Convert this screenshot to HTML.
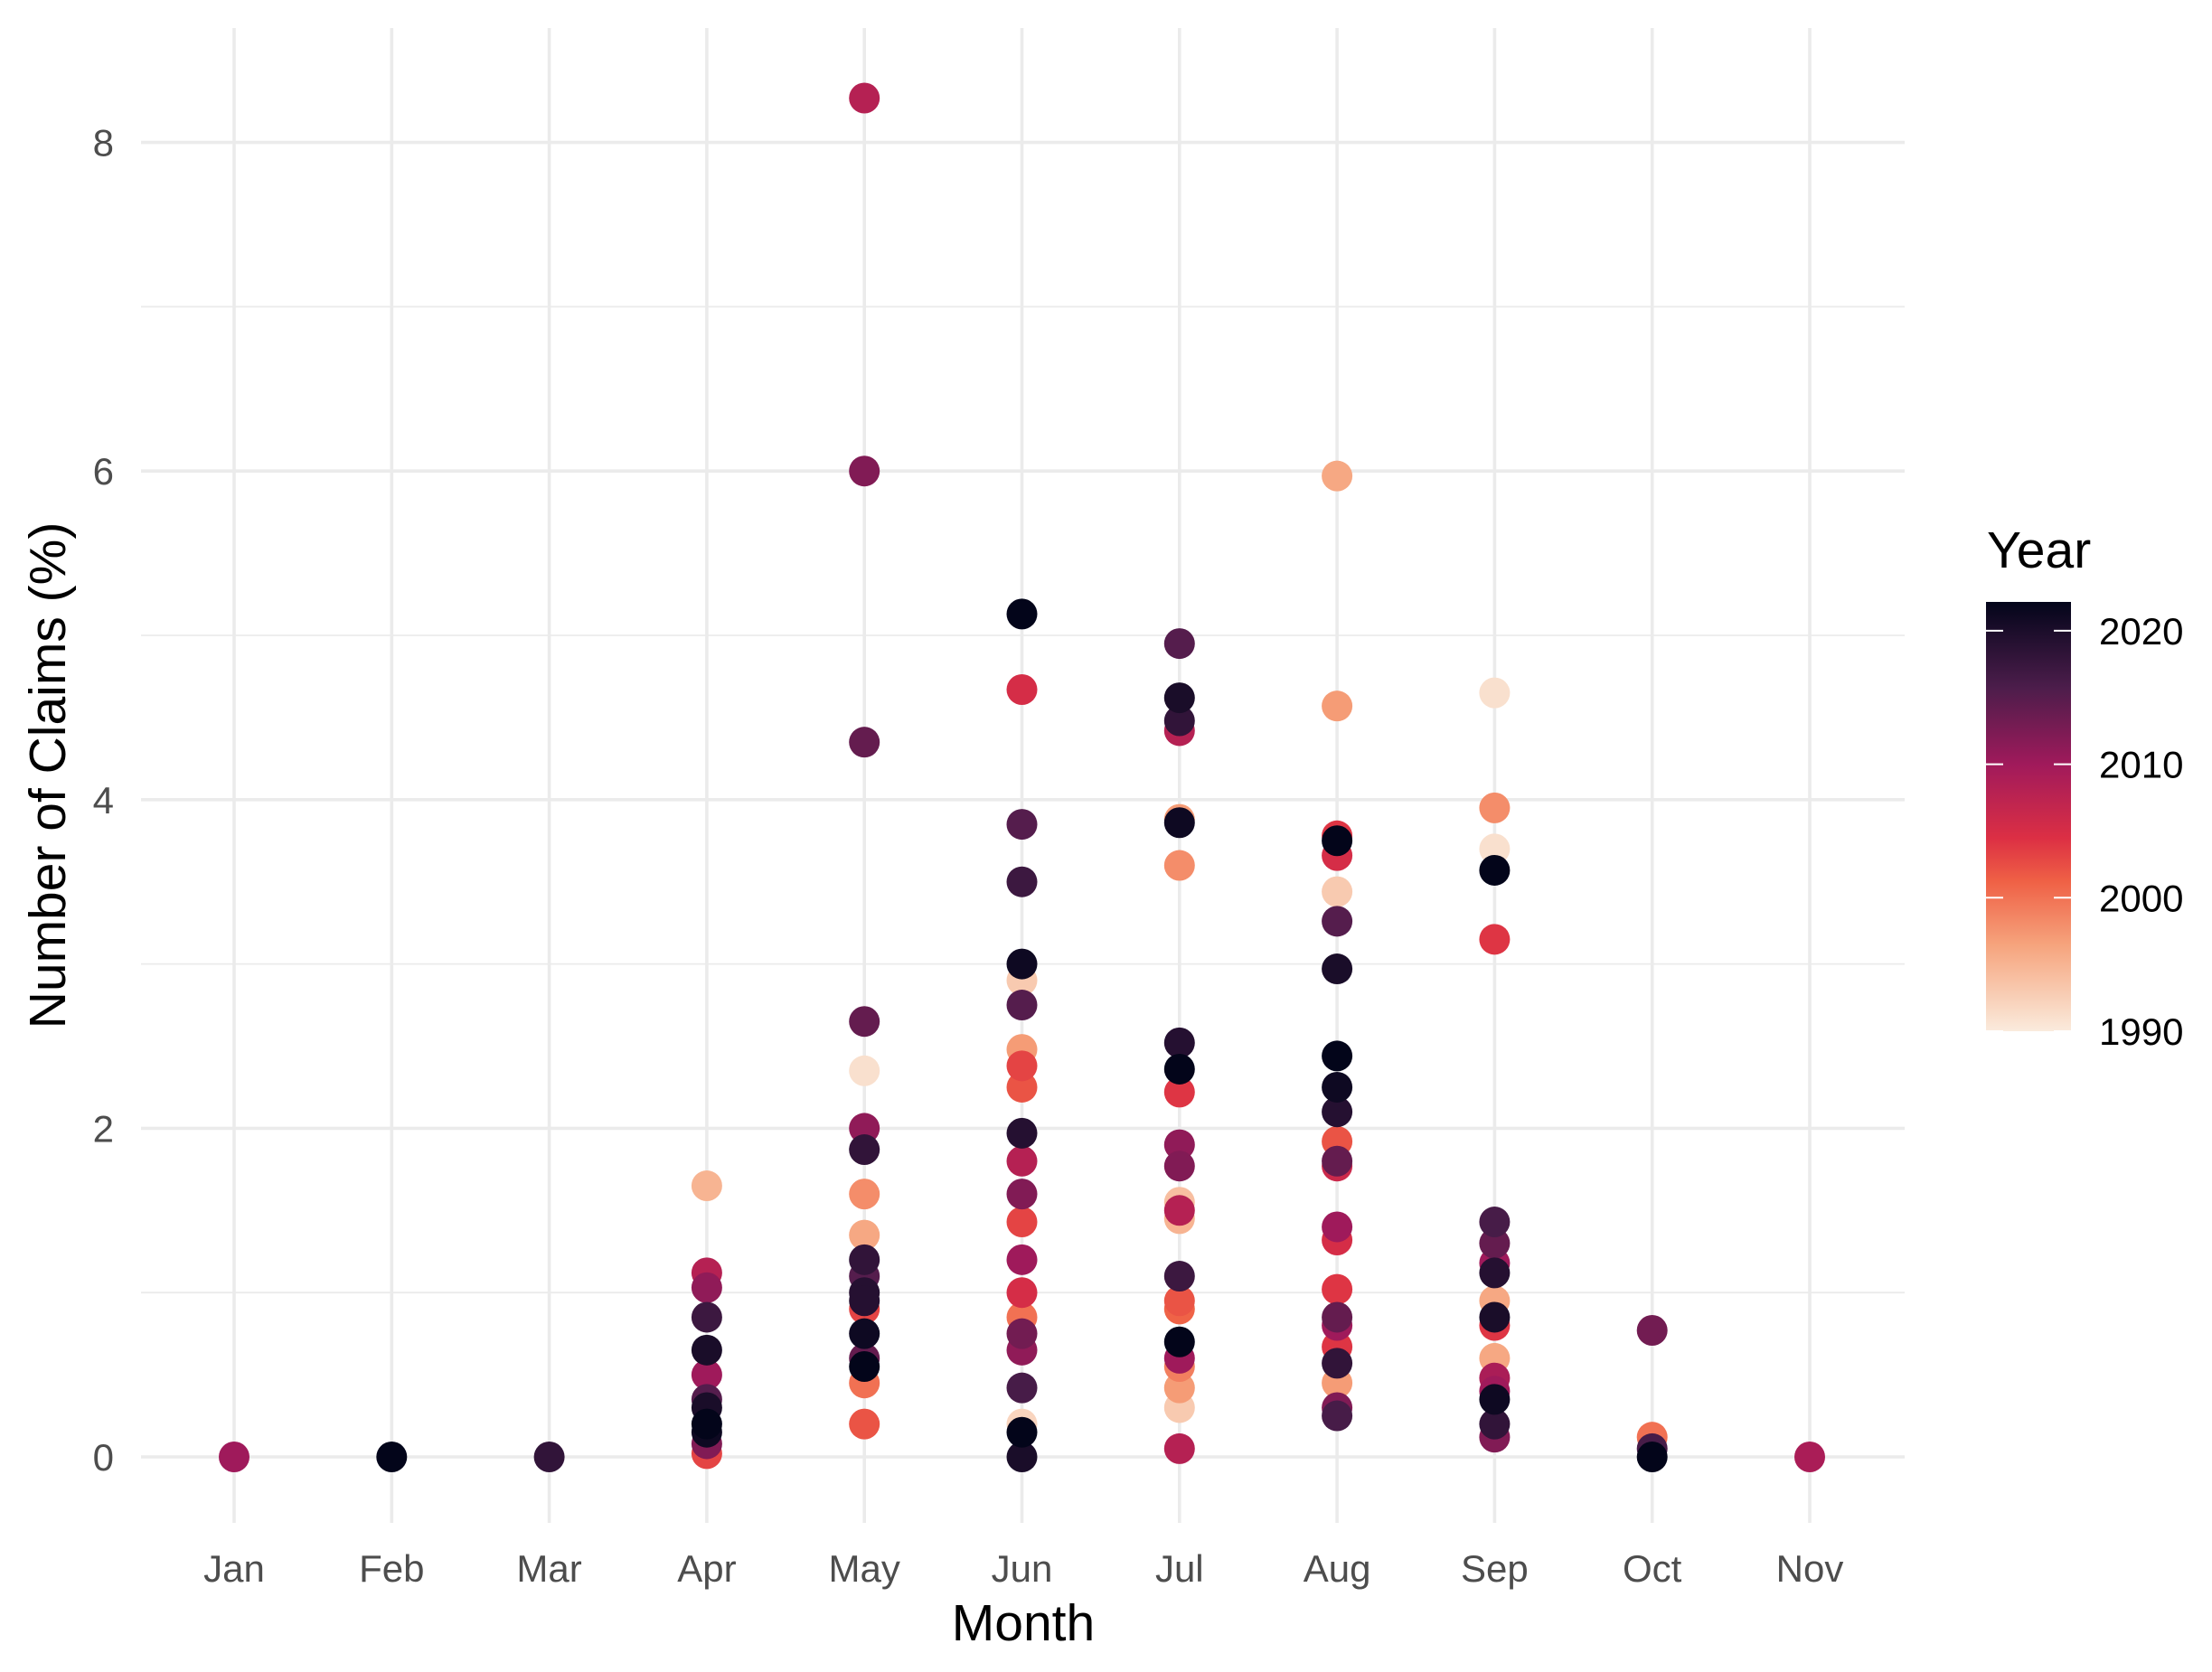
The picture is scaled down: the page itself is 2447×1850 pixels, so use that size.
<!DOCTYPE html>
<html><head><meta charset="utf-8"><style>
html,body{margin:0;padding:0;background:#fff;}
svg{display:block;font-family:"Liberation Sans",sans-serif;}
</style></head><body>
<svg id="chart" width="2447" height="1850" viewBox="0 0 2447 1850">
<defs>
<linearGradient id="rocket" x1="0" y1="1" x2="0" y2="0">
<stop offset="0" stop-color="#FAEBDD"/><stop offset="0.2" stop-color="#F6A47D"/><stop offset="0.35" stop-color="#EF6045"/>
<stop offset="0.45" stop-color="#DC2F44"/><stop offset="0.62" stop-color="#A11A5B"/><stop offset="0.8" stop-color="#4C1D4B"/><stop offset="1" stop-color="#03051A"/>
</linearGradient>
</defs>
<g id="grid"></g>
<g id="points"></g>
<g id="axes"></g>
<text x="1132" y="1815" font-size="57" text-anchor="middle" fill="#000">Month</text>
<text transform="translate(72,858) rotate(-90)" font-size="57" text-anchor="middle" fill="#000">Number of Claims (%)</text>
<g>
<text x="2198" y="628" font-size="57" fill="#000">Year</text>
<rect x="2197" y="666" width="94" height="475" fill="url(#rocket)"/>
<g id="legendticks"></g>
</g>
</svg>
<script>
const months = ["Jan","Feb","Mar","Apr","May","Jun","Jul","Aug","Sep","Oct","Nov"];
const yTicks = [0,2,4,6,8];
const legendYears = [1990,2000,2010,2020];
const ptMonth = [0,1,2,
3,3,3,3,3,3,3,3,3,3,3,3,
4,4,4,4,4,4,4,4,4,4,4,4,4,4,4,4,4,4,4,
5,5,5,5,5,5,5,5,5,5,5,5,5,5,5,5,5,5,5,5,5,5,5,
6,6,6,6,6,6,6,6,6,6,6,6,6,6,6,6,6,6,6,6,6,6,6,6,
7,7,7,7,7,7,7,7,7,7,7,7,7,7,7,7,7,7,7,7,7,7,7,7,
8,8,8,8,8,8,8,8,8,8,8,8,8,8,8,8,8,8,
9,9,9,9,10];
const ptValue = [0,0,0,
1.65,1.12,1.03,0.85,0.65,0.5,0.35,0.3,0.2,0.15,0.08,0.02,
8.27,6.0,4.35,2.65,2.35,2.0,1.87,1.6,1.35,1.2,1.0,0.9,0.75,0.55,0.6,0.45,0.2,1.1,0.95,
5.13,4.67,3.85,3.5,3.0,2.75,2.9,2.48,2.38,2.25,1.97,1.8,1.6,1.43,1.2,1.0,0.85,0.75,0.65,0.42,0.2,0.15,0.0,
4.95,4.62,4.48,4.42,3.88,3.86,3.6,2.52,2.36,2.22,1.9,1.77,1.55,1.5,1.45,1.1,0.95,0.9,0.7,0.6,0.55,0.42,0.3,0.05,
5.97,4.57,3.78,3.75,3.66,3.44,3.26,2.97,2.44,2.25,2.1,1.92,1.8,1.77,1.4,1.32,1.02,0.85,0.8,0.67,0.57,0.45,0.3,0.25,
4.65,3.95,3.7,3.57,3.15,1.43,1.3,1.18,1.12,0.95,0.85,0.8,0.6,0.48,0.4,0.35,0.2,0.12,
0.77,0.12,0.05,0.0,0];
const ptYear = [2010,2022,2018,
1995,2008,2011,2017,2020,2010,2015,2020,2022,2021,2012,2003,
2008,2012,2014,2014,1991,2011,2018,1998,1996,2018,2019,2003,2021,2022,2014,2000,2002,2015,2019,
2022,2005,2015,2017,2021,2015,1993,1997,2003,2002,2019,2008,2012,2003,2010,2005,2000,2013,2011,2016,1992,2022,2020,
2015,2020,2018,2008,1997,2021,1998,2019,2022,2004,2011,2012,1994,2008,1995,2017,2002,2001,2022,2010,1999,1997,1993,2008,
1996,1997,2004,2022,2005,1993,2015,2020,2022,2021,2019,2002,2014,2006,2010,2005,2004,2014,2010,2004,2018,1997,2012,2016,
1991,1998,1991,2022,2004,2016,2014,2010,2019,1996,2020,2004,1996,2009,2010,2021,2018,2012,
2013,2000,2016,2022,2009];

const NS="http://www.w3.org/2000/svg";
const xS = i => 259 + i*174.3;
const yS = v => 1612 - v*181.8;
const yearY = yr => 1141 - (yr-1990)*14.77;
const stops=[[0,[3,5,26]],[0.2,[76,29,75]],[0.38,[161,26,91]],[0.55,[220,47,68]],[0.65,[239,96,69]],[0.8,[246,164,125]],[1,[250,235,221]]];
function col(yr){let t=Math.max(0,Math.min(1,(2022-yr)/32));
for(let k=1;k<stops.length;k++){if(t<=stops[k][0]){const a=stops[k-1],b=stops[k],f=(t-a[0])/(b[0]-a[0]);
return "rgb("+a[1].map((c,j)=>Math.round(c+(b[1][j]-c)*f)).join(",")+")";}}return "rgb(250,235,221)";}
function mk(tag,attrs,parent){const e=document.createElementNS(NS,tag);for(const k in attrs)e.setAttribute(k,attrs[k]);parent.appendChild(e);return e;}
const grid=document.getElementById('grid'),axes=document.getElementById('axes'),pts=document.getElementById('points');
for(let v=1;v<=7;v+=2){const l=mk('line',{x1:156,x2:2107,y1:yS(v),y2:yS(v),stroke:'#ebebeb','stroke-width':1.8},grid);

}
yTicks.forEach(v=>{const l=mk('line',{x1:156,x2:2107,y1:yS(v),y2:yS(v),stroke:'#ebebeb','stroke-width':3.6},grid);


const t=mk('text',{x:126,y:yS(v)+15,'font-size':42,'text-anchor':'end',fill:'#4d4d4d'},axes);t.textContent=v;

});
months.forEach((m,i)=>{const l=mk('line',{x1:xS(i),x2:xS(i),y1:31,y2:1685,stroke:'#ebebeb','stroke-width':3.6},grid);


const t=mk('text',{x:xS(i),y:1750,'font-size':42,'text-anchor':'middle',fill:'#4d4d4d'},axes);t.textContent=m;

});
const order=ptValue.map((_,i)=>i).sort((a,b)=>ptYear[a]-ptYear[b]);
order.forEach(i=>{const c=mk('circle',{cx:xS(ptMonth[i]),cy:yS(ptValue[i]),r:17,fill:col(ptYear[i])},pts);

});
const lt=document.getElementById('legendticks');
legendYears.forEach(yr=>{const y=yearY(yr);
mk('line',{x1:2197,x2:2216,y1:y,y2:y,stroke:'#fff','stroke-width':2},lt);
mk('line',{x1:2272,x2:2291,y1:y,y2:y,stroke:'#fff','stroke-width':2},lt);
const t=mk('text',{x:2322,y:y+15,'font-size':42,fill:'#000'},lt);t.textContent=yr;

});
</script>
</body></html>
